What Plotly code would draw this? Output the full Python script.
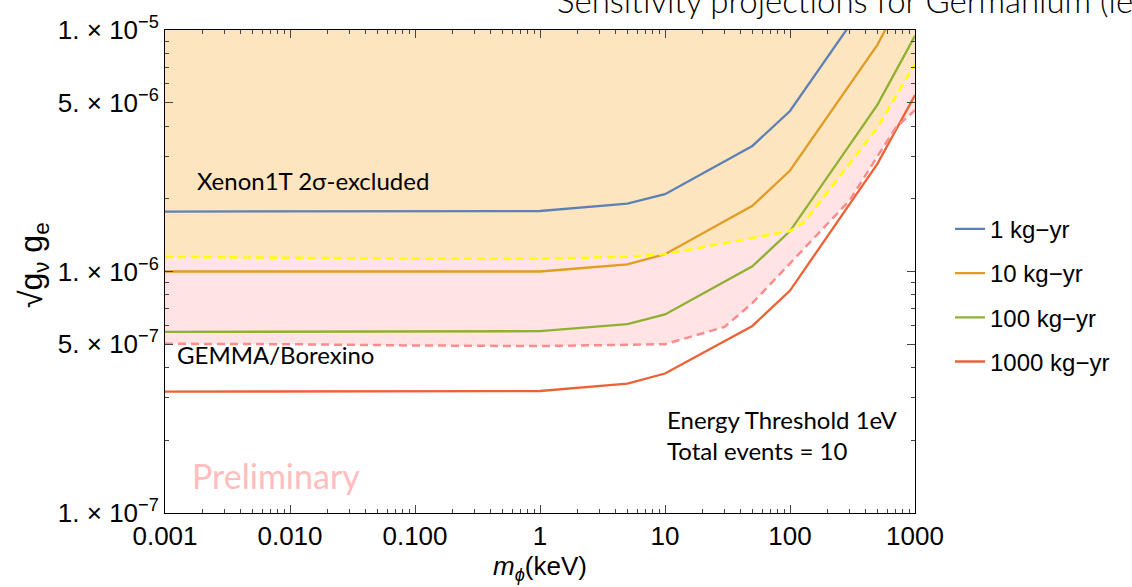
import plotly.graph_objects as go

# ---------------- data ----------------
mass_x = [0.001, 0.01, 0.1, 1, 5, 10, 50, 100, 500, 1000]

exp_1 = [1.77e-6, 1.77e-6, 1.77e-6, 1.78e-6, 1.91e-6, 2.09e-6, 3.31e-6, 4.62e-6, 1.53e-5, 3.0e-5]
exp_10 = [1.0e-6, 1.0e-6, 1.0e-6, 1.0e-6, 1.07e-6, 1.18e-6, 1.87e-6, 2.62e-6, 8.68e-6, 1.71e-5]
exp_100 = [5.62e-7, 5.62e-7, 5.62e-7, 5.66e-7, 6.05e-7, 6.64e-7, 1.05e-6, 1.47e-6, 4.9e-6, 9.46e-6]
exp_1000 = [3.18e-7, 3.18e-7, 3.18e-7, 3.2e-7, 3.43e-7, 3.78e-7, 5.95e-7, 8.34e-7, 2.79e-6, 5.38e-6]

xenon_x = [0.001, 0.01, 0.1, 1, 5, 10, 50, 100, 130, 500, 1000]
xenon_y = [1.15e-6, 1.14e-6, 1.13e-6, 1.13e-6, 1.15e-6, 1.18e-6, 1.38e-6, 1.47e-6, 1.6e-6, 3.94e-6, 7.24e-6]

gemma_x = [0.001, 0.01, 0.1, 1, 10, 30, 50, 100, 300, 700, 1000]
gemma_y = [5.02e-7, 5.0e-7, 4.94e-7, 4.91e-7, 5.0e-7, 5.9e-7, 7.4e-7, 1.08e-6, 1.97e-6, 3.94e-6, 4.66e-6]

series_names = ["1 kg\u2212yr", "10 kg\u2212yr", "100 kg\u2212yr", "1000 kg\u2212yr"]
series_colors = ["#5E81B5", "#E19C24", "#8FB032", "#EB6235"]

x_tick_vals = [0.001, 0.01, 0.1, 1, 10, 100, 1000]
x_tick_text = ["0.001", "0.010", "0.100", "1", "10", "100", "1000"]
y_tick_vals = [1e-7, 5e-7, 1e-6, 5e-6, 1e-5]
y_tick_text = ["1. \u00d7 10<sup>\u22127</sup>", "5. \u00d7 10<sup>\u22127</sup>",
               "1. \u00d7 10<sup>\u22126</sup>", "5. \u00d7 10<sup>\u22126</sup>",
               "1. \u00d7 10<sup>\u22125</sup>"]

X_RANGE = [-3, 3]
Y_RANGE = [-7, -5]
Y_TOP = 10 ** Y_RANGE[1]

# ---------------- layout geometry ----------------
W, H = 1132, 587
L, R, T, B = 165, 915, 24, 513


def px(xp):
    return (xp - L) / (R - L)


def py(yp):
    return (B - yp) / (B - T)


fig = go.Figure()

# GEMMA/Borexino excluded region (pink)
fig.add_trace(go.Scatter(
    x=gemma_x + [gemma_x[-1], gemma_x[0]],
    y=gemma_y + [Y_TOP, Y_TOP],
    fill="toself", fillcolor="#FFE3E5", line=dict(width=0),
    mode="lines", hoverinfo="skip", showlegend=False))
# Xenon1T excluded region (orange)
fig.add_trace(go.Scatter(
    x=xenon_x + [xenon_x[-1], xenon_x[0]],
    y=xenon_y + [Y_TOP, Y_TOP],
    fill="toself", fillcolor="#FDE5C0", line=dict(width=0),
    mode="lines", hoverinfo="skip", showlegend=False))

for ys, name, col in zip([exp_1, exp_10, exp_100, exp_1000], series_names, series_colors):
    fig.add_trace(go.Scatter(
        x=mass_x, y=ys, mode="lines", name=name, legendgroup=name,
        line=dict(color=col, width=2.3)))

fig.add_trace(go.Scatter(
    x=gemma_x, y=gemma_y, mode="lines", showlegend=False,
    line=dict(color="#FF8C8C", width=2.5, dash="8px,5px")))
fig.add_trace(go.Scatter(
    x=xenon_x, y=xenon_y, mode="lines", showlegend=False,
    line=dict(color="#FFFF00", width=2.5, dash="8px,5px")))

minor_x = [m * 10 ** e for e in range(-3, 3) for m in range(2, 10)]
minor_y = [m * 10 ** e for e in range(-7, -5) for m in range(2, 10) if m != 5]

axis_font = dict(family="Liberation Sans, Arial, sans-serif", size=26, color="black")

fig.update_xaxes(
    type="log", range=X_RANGE, tickmode="array", tickvals=x_tick_vals, ticktext=x_tick_text,
    ticks="inside", ticklen=8, tickcolor="#444", tickwidth=1,
    minor=dict(tickmode="array", tickvals=minor_x, ticks="inside", ticklen=4, tickcolor="#444", showgrid=False),
    showline=True, linecolor="black", linewidth=1, mirror="allticks",
    showgrid=False, zeroline=False, tickfont=axis_font,
    title=dict(text="<i>m</i><sub><i>\u03d5</i></sub>(keV)", font=axis_font, standoff=6),
)
fig.update_yaxes(
    type="log", range=Y_RANGE, tickmode="array", tickvals=y_tick_vals, ticktext=y_tick_text,
    ticks="inside", ticklen=8, tickcolor="#444", tickwidth=1,
    minor=dict(tickmode="array", tickvals=minor_y, ticks="inside", ticklen=4, tickcolor="#444", showgrid=False),
    showline=True, linecolor="black", linewidth=1, mirror="allticks",
    showgrid=False, zeroline=False, tickfont=axis_font,
)

text_font = "Lato, Open Sans, sans-serif"
annos = [
    dict(text="Xenon1T 2\u03c3-excluded", x=px(195), y=py(176), size=24, color="black"),
    dict(text="GEMMA/Borexino", x=px(175), y=py(353), size=24, color="black"),
    dict(text="Energy Threshold 1eV", x=px(665), y=py(418), size=24, color="black"),
    dict(text="Total events = 10", x=px(665), y=py(450), size=24, color="black"),
    dict(text="Preliminary", x=px(190), y=py(475), size=34, color="#FFBDBD"),
]
for a in annos:
    fig.add_annotation(text=a["text"], x=a["x"], y=a["y"], xref="paper", yref="paper",
                       xanchor="left", yanchor="middle", showarrow=False,
                       font=dict(family=text_font, size=a["size"], color=a["color"]))

# y-axis label
fig.add_annotation(text="\u221ag<sub>\u03bd</sub> g<sub>e</sub>", x=px(33), y=py(262),
                   xref="paper", yref="paper", textangle=-90, showarrow=False,
                   xanchor="center", yanchor="middle",
                   font=dict(family="Liberation Sans, Arial, sans-serif", size=32, color="black"))

# title (cut off at the top / right of the image, as in the reference)
fig.add_annotation(text="Sensitivity projections for Germanium (le",
                   x=px(555), y=py(-6), xref="paper", yref="paper",
                   xanchor="left", yanchor="middle", showarrow=False,
                   font=dict(family="Lato, sans-serif", size=33, color="black", weight=300))

fig.update_layout(
    width=W, height=H,
    margin=dict(l=L, r=W - R, t=T, b=H - B),
    paper_bgcolor="white", plot_bgcolor="white",
    showlegend=True,
    legend=dict(x=px(950), y=py(203), xanchor="left", yanchor="top",
                font=dict(family="Liberation Sans, Arial, sans-serif", size=24, color="black"),
                tracegroupgap=10, bgcolor="rgba(0,0,0,0)"),
)

fig.write_html("out.html")
